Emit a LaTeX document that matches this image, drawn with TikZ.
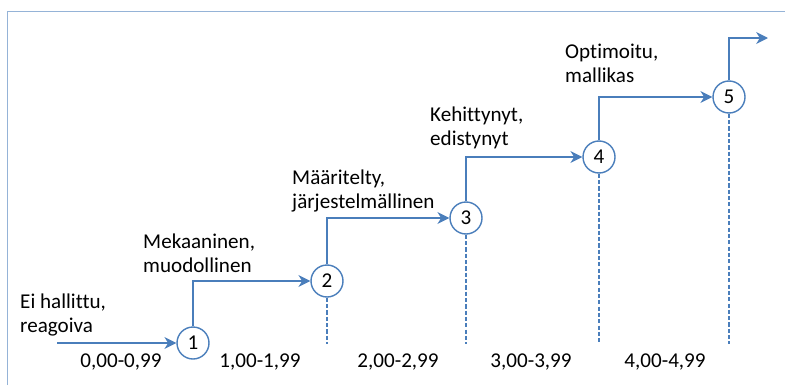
\documentclass[tikz,border=0pt]{standalone}
\usepackage{fontspec}
\setmainfont{Carlito}[Ligatures=NoCommon]
\usetikzlibrary{positioning,arrows.meta}
\definecolor{stepblue}{RGB}{74,126,187}
\definecolor{frameblue}{RGB}{149,179,215}
\tikzset{
  level/.style={circle,draw=stepblue,line width=1.2pt,fill=white,minimum size=0.96cm,inner sep=0pt},
  stair/.style={stepblue,line width=2.5pt,-{Stealth[length=10pt,width=10pt,inset=3pt]}},
  divider/.style={stepblue,line width=2pt,dash pattern=on 3.6pt off 1.8pt},
  caption/.style={anchor=base west,align=left,inner sep=0pt},
  interval/.style={anchor=base,inner sep=0pt}
}

\begin{document}
\begin{tikzpicture}[x=0.03cm,y=-0.03cm,font=\fontsize{18}{20}\selectfont]
  \useasboundingbox (0,0) rectangle (785,385);
  % kehys
  \draw[frameblue,line width=0.8pt] (7,385) |- (785,11);

  % tasot 1-5
  \foreach \n/\x/\y in {1/193/343,2/327/281,3/466/218,4/599/157,5/729/97}
    \node[level] (s\n) at (\x,\y) {\n};

  \coordinate (start) at (57,343);
  \coordinate (top) at (768,38);
  \coordinate (base) at (0,344);

  % portaat
  \draw[stair] (start) -- (s1);
  \foreach \a/\b in {1/2,2/3,3/4,4/5}
    \draw[stair] (s\a.north) |- (s\b.west);
  \draw[stair] (s5.north) |- (top);

  % katkoviivat tasojen alla
  \foreach \n in {2,...,5}
    \draw[divider] (s\n.south) -- (s\n.south |- base);

  % tasojen nimet (base = alemman rivin perusviiva)
  \node[caption] (c1) at (20,332) {Ei hallittu,\\reagoiva};
  \node[caption] (c2) at (143,272) {Mekaaninen,\\muodollinen};
  \node[caption] (c3) at (292,208) {Määritelty,\\järjestelmällinen};
  \node[caption] (c4) at (430,145) {Kehittynyt,\\edistynyt};
  \node[caption] (c5) at (565,82) {Optimoitu,\\mallikas};

  % pistevälit
  \node[interval] (r1) at (121,367) {0,00-0,99};
  \node[interval] (r2) at (260,367) {1,00-1,99};
  \node[interval] (r3) at (398,367) {2,00-2,99};
  \node[interval] (r4) at (531,367) {3,00-3,99};
  \node[interval] (r5) at (665,367) {4,00-4,99};
\end{tikzpicture}
\end{document}
